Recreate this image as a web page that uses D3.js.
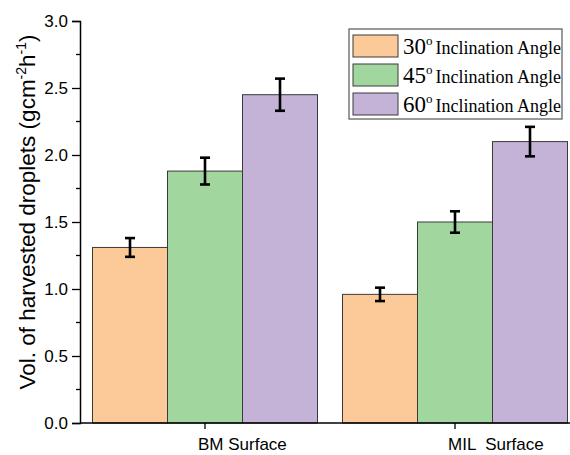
<!DOCTYPE html>
<html>
<head>
<meta charset="utf-8">
<script src="https://cdn.jsdelivr.net/npm/d3@7"></script>
<style>
  body { margin: 0; background: #fff; }
  svg { display: block; }
  .axis text { font-family: "Liberation Sans", Arial, sans-serif; fill: #000; }
</style>
</head>
<body>
<div id="chart"></div>
<script>
// data
var surfaces = ["BM Surface", "MIL  Surface"];
var angles = ["30", "45", "60"];
var means = {
  "30": [1.31, 0.96],
  "45": [1.88, 1.50],
  "60": [2.45, 2.10]
};
var errors = {
  "30": [0.07, 0.05],
  "45": [0.10, 0.08],
  "60": [0.12, 0.11]
};
var yTicks = [0, 0.5, 1.0, 1.5, 2.0, 2.5, 3.0];
var colors = ["#fbca98", "#a1d69f", "#c4b2d7"];

var width = 570, height = 455;
var plotLeft = 80, plotBottom = 423, plotTop = 21;

var svg = d3.select("#chart").append("svg")
    .attr("width", width)
    .attr("height", height);

var y = d3.scaleLinear().domain([0, 3]).range([plotBottom, plotTop]);

// groups and bars inside each group
var x0 = d3.scaleBand().domain(surfaces).range([plotLeft, plotLeft + 500]).paddingInner(0.1).paddingOuter(0.05);
var x1 = d3.scaleBand().domain(angles).range([0, x0.bandwidth()]);
var color = d3.scaleOrdinal().domain(angles).range(colors);

var rows = [];
surfaces.forEach(function (s, i) {
  angles.forEach(function (a) {
    rows.push({ surface: s, angle: a, value: means[a][i], err: errors[a][i] });
  });
});

// bars
svg.append("g").selectAll("rect")
  .data(rows)
  .enter().append("rect")
    .attr("x", function (d) { return x0(d.surface) + x1(d.angle); })
    .attr("y", function (d) { return y(d.value); })
    .attr("width", x1.bandwidth())
    .attr("height", function (d) { return plotBottom - y(d.value); })
    .attr("fill", function (d) { return color(d.angle); })
    .attr("stroke", "#3a3a3a")
    .attr("stroke-width", 1);

// error bars
var eb = svg.append("g").attr("stroke", "#000").attr("stroke-width", 2.6);
rows.forEach(function (d) {
  var cx = x0(d.surface) + x1(d.angle) + x1.bandwidth() / 2;
  eb.append("line").attr("x1", cx).attr("x2", cx)
    .attr("y1", y(d.value + d.err)).attr("y2", y(d.value - d.err));
  eb.append("line").attr("x1", cx - 5).attr("x2", cx + 5)
    .attr("y1", y(d.value + d.err)).attr("y2", y(d.value + d.err));
  eb.append("line").attr("x1", cx - 5).attr("x2", cx + 5)
    .attr("y1", y(d.value - d.err)).attr("y2", y(d.value - d.err));
});

// y axis with minor ticks
var yAxis = svg.append("g").attr("class", "axis")
    .attr("transform", "translate(" + plotLeft + ",0)")
    .call(d3.axisLeft(y).tickValues(yTicks).tickFormat(d3.format(".1f")).tickSize(8).tickPadding(4));
yAxis.selectAll("text").style("font-size", "17px");
yAxis.select(".domain").attr("stroke-width", 1.5);
yAxis.selectAll(".tick line").attr("stroke-width", 1.3);
yAxis.append("g").selectAll("line")
  .data(d3.range(0.25, 3, 0.5))
  .enter().append("line")
    .attr("x1", -4).attr("x2", 0)
    .attr("y1", function (d) { return y(d); })
    .attr("y2", function (d) { return y(d); })
    .attr("stroke", "#000").attr("stroke-width", 1.3);

// x axis
var xAxis = svg.append("g").attr("class", "axis")
    .attr("transform", "translate(0," + plotBottom + ")")
    .call(d3.axisBottom(x0).tickSize(6).tickSizeOuter(0).tickPadding(9));
xAxis.select(".domain").attr("d", "M" + plotLeft + ",0H" + width).attr("stroke-width", 1.5);
xAxis.selectAll(".tick line").attr("stroke-width", 1.3);
xAxis.selectAll("text")
    .style("font-size", "17px")
    .style("white-space", "pre")
    .attr("text-anchor", "start")
    .attr("x", -7);

// y axis title
svg.append("text")
    .attr("transform", "translate(35,212) rotate(-90)")
    .attr("text-anchor", "middle")
    .style("font-family", "Liberation Sans, Arial, sans-serif")
    .style("font-size", "22.5px")
    .html('Vol. of harvested droplets (gcm<tspan dy="-9" font-size="14px">-2</tspan><tspan dy="9">h</tspan><tspan dy="-9" font-size="14px">-1</tspan><tspan dy="9">)</tspan>');

// legend
var legend = svg.append("g").attr("transform", "translate(349,29)");
legend.append("rect")
    .attr("width", 213).attr("height", 90)
    .attr("fill", "#fff").attr("stroke", "#555").attr("stroke-width", 1.2);
var items = legend.selectAll("g.item")
  .data(angles)
  .enter().append("g")
    .attr("class", "item")
    .attr("transform", function (d, i) { return "translate(4," + (6 + i * 29) + ")"; });
items.append("rect")
    .attr("width", 45).attr("height", 22)
    .attr("fill", function (d) { return color(d); })
    .attr("stroke", "#3a3a3a").attr("stroke-width", 1);
items.append("text")
    .attr("x", 50).attr("y", 19)
    .style("font-family", "Liberation Serif, Times New Roman, serif")
    .html(function (d) {
      return '<tspan font-size="23px">' + d + '</tspan>' +
             '<tspan font-size="13px" dy="-9">o</tspan>' +
             '<tspan font-size="18px" dy="9" dx="3">Inclination Angle</tspan>';
    });
</script>
</body>
</html>
